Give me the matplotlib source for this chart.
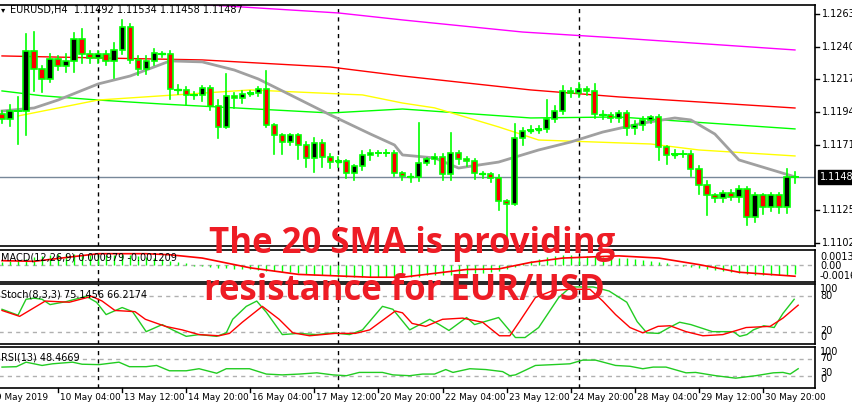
import matplotlib
matplotlib.use("Agg")
import matplotlib.pyplot as plt
import numpy as np

closes = [1.11899, 1.11953, 1.11953, 1.12377, 1.12246, 1.12175, 1.12321, 1.12269, 1.12307, 1.12461,
          1.12353, 1.12323, 1.12353, 1.12304, 1.12382, 1.12541, 1.12311, 1.12246, 1.12307, 1.12358,
          1.12353, 1.12105, 1.12100, 1.12068, 1.12065, 1.12112, 1.11988, 1.11843, 1.12061, 1.12042,
          1.12075, 1.12077, 1.12105, 1.11852, 1.11782, 1.11733, 1.11782, 1.11716, 1.11622, 1.11730,
          1.11632, 1.11592, 1.11599, 1.11515, 1.11566, 1.11641, 1.11660, 1.11660, 1.11660, 1.11515,
          1.11498, 1.11491, 1.11590, 1.11613, 1.11632, 1.11510, 1.11655, 1.11618, 1.11599, 1.11515,
          1.11510, 1.11484, 1.11318, 1.11299, 1.11761, 1.11815, 1.11819, 1.11824, 1.11899, 1.11950,
          1.12096, 1.12082, 1.12110, 1.12096, 1.11932, 1.11927, 1.11904, 1.11936, 1.11833, 1.11852,
          1.11890, 1.11908, 1.11697, 1.11641, 1.11651, 1.11651, 1.11543, 1.11430, 1.11362, 1.11341,
          1.11379, 1.11346, 1.11407, 1.11210, 1.11360, 1.11280, 1.11360, 1.11276, 1.11487, 1.11487]
first_open = 1.11932
up_pips = [2,4,10,12,13,2,3,2,5,4, 7,2,2,2,5,5,2,3,3,3, 1,2,3,2,2,2,2,4,15,2,
           2,2,2,13,1,1,1,1,2,3, 2,2,3,1,1,3,2,1,2,1, 1,1,28,1,2,2,14,2,1,2,
           1,1,2,1,10,2,3,2,13,4, 3,2,4,1,5,2,1,2,2,3, 2,1,2,1,3,2,2,2,3,1,
           1,2,2,1,2,1,2,2,6,4]
low_pips = [3,5,23,17,15,9,2,3,4,8, 6,3,3,3,12,3,2,4,3,3, 2,7,3,7,3,4,3,8,1,7,
            3,2,2,1,13,8,2,10,6,10, 7,4,3,3,5,3,3,2,2,2, 3,4,3,2,3,4,4,4,3,4,
            3,3,6,25,1,5,2,2,2,2, 2,3,3,3,3,3,3,3,5,4, 3,2,9,6,2,2,5,6,14,3,
            3,2,3,6,4,5,3,4,4,4]

ma_magenta_x = [22, 42, 50, 65, 77, 99]
ma_magenta = [1.12712, 1.12642, 1.12593, 1.12508, 1.12466, 1.12382]
ma_red_x = [0, 12, 25, 41, 50, 66, 77, 99]
ma_red = [1.12340, 1.12326, 1.12312, 1.12262, 1.12199, 1.12101, 1.12052, 1.11974]
ma_green_x = [0, 5, 12, 20, 41, 50, 66, 77, 99]
ma_green = [1.12094, 1.12060, 1.12030, 1.12002, 1.11939, 1.11967, 1.11904, 1.11911, 1.11827]
ma_yellow_x = [2, 12, 31, 45, 50, 54, 62, 67, 81, 87, 99]
ma_yellow = [1.11918, 1.12030, 1.12101, 1.12066, 1.12009, 1.11975, 1.11841, 1.11749, 1.11721, 1.11679, 1.11637]
sma20_x = [0, 4, 7, 12, 16, 21, 25, 29, 32, 36, 41, 46, 49, 50, 54, 57, 62, 67, 71, 75, 80, 84, 86, 89, 92, 99]
sma20 = [1.11953, 1.11974, 1.12030, 1.12143, 1.12199, 1.12305, 1.12298, 1.12241, 1.12178, 1.12066,
         1.11925, 1.11791, 1.11714, 1.11644, 1.11623, 1.11552, 1.11594, 1.11679, 1.11735, 1.11805,
         1.11868, 1.11904, 1.11890, 1.11791, 1.11609, 1.11490]

macd_hist = [2,3,4,5,7,8,9,10, 10,10,9,9,10,9,9,10,9,8,7,6,5,3,2,1,
             -1,-1,-2,-3,-3,-4,-4,-4,-5,-6,-6,-7,
             -7,-8,-9,-10,-10,-10,-11,-11,-11,-11,-11,-11,-11,-11,
             -11,-11,-11,-10,-10,-10,-10,-9,-9,-8,-8,-7,-6,-4,-2,
             1,3,5,7,8,9,9,8,8,8,7,7,
             6,6,5,4,3,2,1,0,
             -1,-2,-3,-4,-5,-6,-7,-8,-9,-10,-10,-10,-10,-10,-9]
macd_sig_x = [0, 4, 12, 18, 21, 25, 31, 37, 46, 50, 58, 62, 66, 70, 77, 82, 87, 92, 99]
macd_sig = [3.6, 3, 10, 10, 9, 6, -3, -9, -11.6, -11.6, -4.5, -4, 2, 6, 8, 6, 0, -7, -10.7]

st_main_x = [0, 2, 3, 4, 5, 6, 8, 10.5, 11.8, 13, 15, 16.3, 18, 20, 21.3, 23, 24.6, 26.8, 28, 28.8,
             30.5, 31.8, 33, 35, 37, 39.3, 41.3, 43.4, 45, 47.5, 48.8, 50.9, 53.4,
             54.6, 55.8, 58, 59, 62, 64.1, 65.3, 67, 69.5, 71, 72.1, 73.8, 75.8, 78, 79.3, 80.5, 82,
             83.3, 84.6, 86, 88.7, 91.3, 92.1, 93, 93.8, 95.1, 96.4, 97.5, 98.9]
st_main = [58, 48, 75, 77, 75, 66, 71, 80, 70, 49, 61, 54, 20, 32, 23, 12, 15, 12, 18, 41,
           63, 72, 53, 15, 17, 15, 18, 15, 23, 63, 58, 23, 41,
           32, 22, 44, 32, 44, 10, 10, 27, 78, 96, 96, 96, 89, 70, 37, 18, 17,
           27, 36, 32, 20, 20, 12, 15, 23, 30, 27, 51, 75]
st_sig_x = [0, 2.2, 5.4, 8.4, 11.2, 12.5, 14.1, 16.6, 17.9, 20.4, 22.5, 24.6, 27.1, 28.4, 30, 32.5,
            34.6, 36.3, 38.4, 41.6, 44.1, 45.9, 49.1, 50, 51.2, 52.9, 55, 57.5, 60, 62.1, 63.4,
            64.6, 66.6, 68.8, 70.9, 73.4, 75, 76.6, 78.4, 80, 81.9, 83.4, 85.4, 87.5, 90, 92.9,
            95.9, 97.5, 99.4]
st_sig = [56, 46, 72, 70, 80, 72, 56, 54, 41, 29, 23, 15, 13, 17, 36, 63,
          41, 18, 13, 17, 17, 23, 55, 52, 34, 29, 41, 43, 36, 13, 13,
          37, 78, 90, 92, 92, 72, 49, 27, 18, 29, 30, 20, 13, 15, 27,
          29, 43, 65]

rsi_x = [0, 1.8, 3, 5, 6.3, 8.8, 10, 12.1, 14.6, 15.9, 18, 19.3, 20.9, 23, 24.6, 26.8, 28,
         30.9, 33, 35, 37.1, 39.3, 41.3, 43, 44.6, 47.5, 48.8, 50.9,
         52.5, 54, 55.4, 56.3, 58.4, 60.4, 62.5, 63.4, 64.1, 66.6, 68.8, 70.9, 72.5, 74.1, 76.6, 78.4,
         80, 81.3, 82.9, 85.4, 86.6, 89.1, 91.6, 94.1, 96.3, 97.5, 98.4, 99.4]
rsi = [51, 52, 63, 55, 59, 63, 58, 57, 63, 52, 52, 55, 42, 42, 47, 36, 47,
       47, 34, 32, 34, 37, 32, 30, 38, 38, 32, 30,
       34, 34, 45, 38, 47, 45, 40, 30, 32, 55, 57, 59, 68, 68, 55, 53,
       47, 51, 51, 37, 38, 30, 24, 30, 37, 38, 34, 47]

tick_pos = [-1, 7, 15, 23, 31, 39, 47, 55, 63, 71, 79, 87, 95]
tick_labels = ["9 May 2019", "10 May 04:00", "13 May 12:00", "14 May 20:00", "16 May 04:00",
               "17 May 12:00", "20 May 20:00", "22 May 04:00", "23 May 12:00", "24 May 20:00",
               "28 May 04:00", "29 May 12:00", "30 May 20:00"]
separators = [12, 42, 72]
price_labels = [1.12635, 1.12405, 1.12175, 1.11945, 1.11715, 1.11255, 1.11025]
last_price = 1.11487

W, H = 852, 409
fig = plt.figure(figsize=(W / 100, H / 100), dpi=100)
fig.patch.set_facecolor("white")
FS = 7

def rect(x0, y0, x1, y1):
    return [x0 / W, 1 - y1 / H, (x1 - x0) / W, (y1 - y0) / H]

ax = fig.add_axes(rect(-1, 5, 815, 246))
axm = fig.add_axes(rect(-1, 250, 815, 282))
axs = fig.add_axes(rect(-1, 284, 815, 344))
axr = fig.add_axes(rect(-1, 347, 815, 388))
xl = (-0.375, 101.5)
for a in (ax, axm, axs, axr):
    a.set_xlim(*xl)
    a.set_xticks([])
    a.set_yticks([])
    for s in a.spines.values():
        s.set_color("black")
        s.set_linewidth(1.2)
    for sx in separators:
        a.axvline(sx, color="black", ls=(0, (3, 3)), lw=1)

ax.set_ylim(1.11004, 1.12698)
n = len(closes)
opens = [first_open] + closes[:-1]
lime = "#00ff00"
bw = 0.66
for i in range(n):
    o, c = opens[i], closes[i]
    hi = max(o, c) + up_pips[i] * 1e-4
    lo = min(o, c) - low_pips[i] * 1e-4
    ax.plot([i, i], [lo, hi], color=lime, lw=1.2, zorder=3)
    if abs(c - o) < 0.00012:
        ax.plot([i - 0.35, i + 0.35], [c, c], color=lime, lw=1.4, zorder=4)
        if abs(c - o) > 0.00002:
            ax.add_patch(plt.Rectangle((i - bw / 2, min(o, c)), bw, abs(c - o),
                                       facecolor="black" if c > o else "red", edgecolor=lime, lw=1, zorder=4))
    else:
        ax.add_patch(plt.Rectangle((i - bw / 2, min(o, c)), bw, abs(c - o),
                                   facecolor="black" if c > o else "red", edgecolor=lime, lw=1.2, zorder=4))
ax.plot(ma_magenta_x, ma_magenta, color="magenta", lw=1, zorder=2)
ax.plot(ma_red_x, ma_red, color="red", lw=1, zorder=2)
ax.plot(ma_green_x, ma_green, color=lime, lw=1, zorder=2)
ax.plot(ma_yellow_x, ma_yellow, color="yellow", lw=1, zorder=2)
ax.plot(sma20_x, sma20, color="#a0a0a0", lw=2, zorder=2)
ax.axhline(last_price, color="#778899", lw=1, zorder=1)

def fy(a, v):
    return a.transData.transform((0, v))[1] / H

for p in price_labels:
    y = fy(ax, p)
    fig.add_artist(plt.Line2D([815 / W, 819 / W], [y, y], color="black", lw=1))
    fig.text(822 / W, y, f"{p:.5f}", fontsize=FS, va="center", ha="left")
yl = fy(ax, last_price)
fig.text(820 / W, yl, f"{last_price:.5f}", fontsize=FS, va="center", ha="left", color="white",
         bbox=dict(facecolor="black", edgecolor="black", pad=1.5))

axm.set_ylim(-0.0016, 0.00134)
axm.axhline(0, color="#b0b0b0", ls=(0, (3, 3)), lw=1)
axm.vlines(range(len(macd_hist)), 0, np.array(macd_hist) * 1e-4, color=lime, lw=1)
axm.plot(macd_sig_x, np.array(macd_sig) * 1e-4, color="red", lw=1.2)
axm.text(0.002, 0.78, "MACD(12,26,9) 0.000979 -0.001209", transform=axm.transAxes, fontsize=FS, va="center")

axs.set_ylim(-1, 101)
for lv in (80, 20):
    axs.axhline(lv, color="#b0b0b0", ls=(0, (3, 3)), lw=1)
axs.plot(st_main_x, st_main, color="#22cc22", lw=1)
axs.plot(st_sig_x, st_sig, color="red", lw=1)
axs.text(0.002, 0.83, "Stoch(8,3,3) 75.1456 66.2174", transform=axs.transAxes, fontsize=FS, va="center")

axr.set_ylim(0, 100)
for lv in (70, 30):
    axr.axhline(lv, color="#b0b0b0", ls=(0, (3, 3)), lw=1)
axr.plot(rsi_x, rsi, color="#22cc22", lw=1)
axr.text(0.002, 0.75, "RSI(13) 48.4669", transform=axr.transAxes, fontsize=FS, va="center")

for txt, y in [("0.00134", 257), ("0.00", 266), ("-0.0016", 276),
               ("100", 289), ("80", 296), ("20", 331), ("0", 337),
               ("100", 352), ("70", 358), ("30", 373), ("0", 379)]:
    fig.text(820 / W, 1 - y / H, txt, fontsize=FS, va="center", ha="left")

for p, t in zip(tick_pos, tick_labels):
    xf = ax.transData.transform((p, 0))[0] / W
    fig.add_artist(plt.Line2D([xf, xf], [1 - 388 / H, 1 - 392 / H], color="black", lw=1))
    fig.text(xf + 2 / W, 1 - 398 / H, t, fontsize=6.4, va="center", ha="left")

fig.text(10 / W, 1 - 10 / H, "EURUSD,H4  1.11492 1.11534 1.11458 1.11487", fontsize=FS, va="center")
fig.text(1 / W, 1 - 10 / H, "\u25BE", fontsize=6, va="center")

fig.text(412 / W, 1 - 244 / H, "The 20 SMA is providing", fontsize=25, fontweight="bold",
         color="#ee1c25", ha="center", va="center", family="Open Sans")
fig.text(404 / W, 1 - 291 / H, "resistance for EUR/USD", fontsize=25, fontweight="bold",
         color="#ee1c25", ha="center", va="center", family="Open Sans")

fig.savefig("out.png", dpi=100)
